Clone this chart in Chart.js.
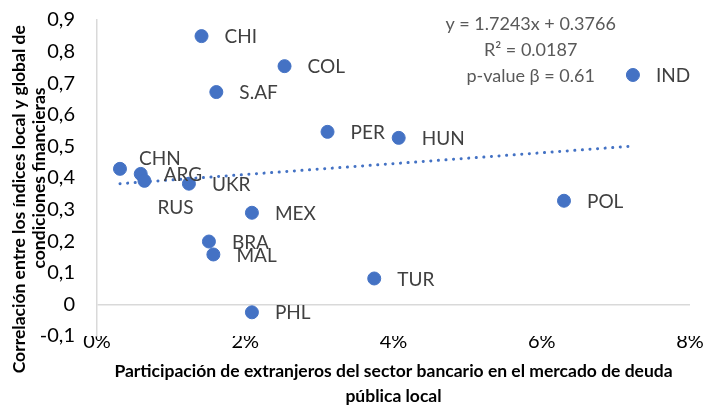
<!DOCTYPE html>
<html>
<head>
<meta charset="utf-8">
<script src="https://cdn.jsdelivr.net/npm/chart.js@4/dist/chart.umd.min.js"></script>
<style>
  html, body { margin: 0; padding: 0; background: #fff; }
  #wrap { width: 707px; height: 408px; }
</style>
</head>
<body>
<div id="wrap"><canvas id="c"></canvas></div>
<script>
// scatter: foreign bank share of local public debt vs. local/global FCI correlation

const countries = ['CHI', 'COL', 'S.AF', 'PER', 'HUN', 'IND', 'POL', 'TUR',
                   'MEX', 'BRA', 'MAL', 'PHL', 'CHN', 'ARG', 'RUS', 'UKR'];
const shareX = [1.41, 2.53, 1.61, 3.11, 4.07, 7.23, 6.30, 3.74,
                2.09, 1.51, 1.57, 2.09, 0.31, 0.59, 0.64, 1.24];
const corrY = [0.849, 0.754, 0.672, 0.546, 0.527, 0.726, 0.328, 0.082,
               0.290, 0.199, 0.158, -0.025, 0.429, 0.413, 0.391, 0.382];

// linear trend endpoints (from the fitted line in the figure)
const trendX = [0.31, 7.23];
const trendY = [0.382, 0.501];

const eqLines = ['y = 1.7243x + 0.3766', 'R² = 0.0187', 'p-value β = 0.61'];

const xTicks = [0, 2, 4, 6, 8];
const yMin = -0.1, yMax = 0.9;

const BLUE = '#4472C4';
const FONT = 'Lato, "Open Sans", sans-serif';

// label nudges (px) for the few labels moved by hand in the original
const LABEL_OFFSET = { CHN: [19, -10], RUS: [13, 27] };

const pointLabels = {
  id: 'pointLabels',
  afterDatasetsDraw(chart) {
    const { ctx } = chart;
    const meta = chart.getDatasetMeta(0);
    ctx.save();
    ctx.font = '19px ' + FONT;
    ctx.fillStyle = '#404040';
    ctx.textBaseline = 'middle';
    ctx.textAlign = 'left';
    meta.data.forEach((pt, i) => {
      const name = countries[i];
      const [dx, dy] = LABEL_OFFSET[name] || [23, 1];
      ctx.fillText(name, pt.x + dx, pt.y + dy);
    });
    // regression text
    const xs = chart.scales.x;
    const cx = xs.getPixelForValue(5.85);
    ctx.textAlign = 'center';
    ctx.fillStyle = '#595959';
    ctx.font = '18px ' + FONT;
    eqLines.forEach((t, k) => ctx.fillText(t, cx, 24 + k * 26));
    ctx.restore();
  }
};

new Chart(document.getElementById('c'), {
  type: 'scatter',
  data: {
    datasets: [
      {
        label: 'Países',
        data: shareX.map((x, i) => ({ x, y: corrY[i] })),
        backgroundColor: BLUE,
        borderColor: BLUE,
        pointRadius: 6.5,
        pointHoverRadius: 6.5,
        order: 1,
      },
      {
        label: 'Lineal',
        type: 'line',
        data: trendX.map((x, i) => ({ x, y: trendY[i] })),
        borderColor: BLUE,
        borderWidth: 3,
        borderDash: [0.1, 7.5],
        borderCapStyle: 'round',
        pointRadius: 0,
        fill: false,
        order: 2,
      }
    ]
  },
  options: {
    responsive: true,
    maintainAspectRatio: false,
    animation: false,
    layout: { padding: { top: 20, right: 17, left: 9, bottom: 0 } },
    plugins: {
      legend: { display: false },
      tooltip: { enabled: false },
    },
    scales: {
      x: {
        type: 'linear',
        min: 0, max: 8,
        afterBuildTicks: s => { s.ticks = xTicks.map(v => ({ value: v })); },
        afterFit: s => { s.height = 72; },
        grid: { display: false, drawTicks: false },
        border: { display: false },
        ticks: {
          padding: -6,
          color: '#000',
          font: { family: FONT, size: 20 },
          callback: v => v + '%',
        },
        title: {
          display: true,
          text: ['Participación de extranjeros del sector bancario en el mercado de deuda', 'pública local'],
          color: '#000',
          font: { family: FONT, size: 17.5, weight: 'bold', lineHeight: 1.38 },
          padding: { top: 0, bottom: 0 },
        },
      },
      y: {
        min: yMin, max: yMax,
        afterFit: s => { s.width = 88; s.paddingTop = 0; s.paddingBottom = 0; },
        ticks: {
          stepSize: 0.1,
          padding: 22,
          color: '#000',
          font: { family: FONT, size: 20 },
          callback: v => Math.abs(v) < 1e-9 ? '0' : v.toFixed(1).replace('.', ','),
        },
        grid: {
          drawTicks: false,
          color: c => (c.tick && Math.abs(c.tick.value) < 1e-9) ? '#d9d9d9' : 'rgba(0,0,0,0)',
          lineWidth: 1.5,
        },
        border: { display: true, color: '#d9d9d9', width: 1.5 },
        title: {
          display: true,
          // trailing spaces push the first line down a little, as in the original
          text: ['Correlación entre los índices local y global de' + '\u00a0'.repeat(10), 'condiciones financieras'],
          color: '#000',
          font: { family: FONT, size: 17.5, weight: 'bold', lineHeight: 1.15 },
          padding: { top: 0, bottom: 0 },
        },
      }
    }
  },
  plugins: [pointLabels]
});
</script>
</body>
</html>
